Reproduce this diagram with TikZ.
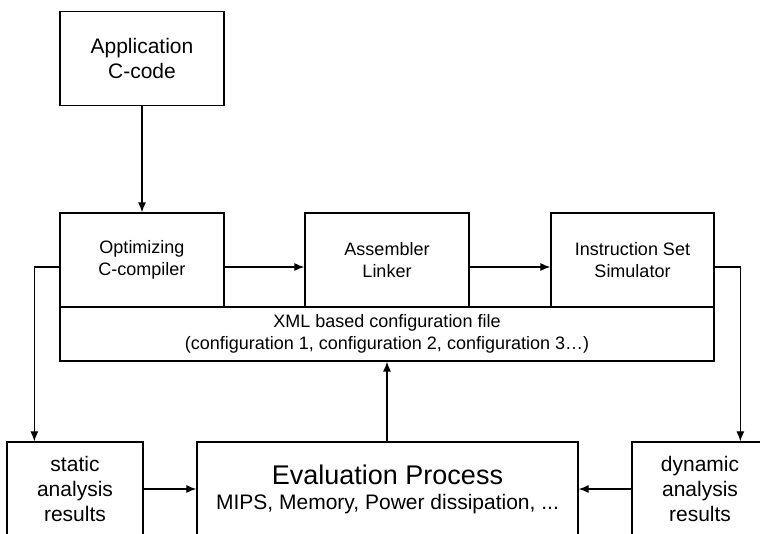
\documentclass[tikz,border=0pt]{standalone}
\usepackage{fontspec}
\setmainfont{Liberation Sans}
\usetikzlibrary{arrows.meta}

\begin{document}
\begin{tikzpicture}[
				x=1pt, y=-1pt,
				box style/.style={
					draw,
					line width=1.3pt,
					align=center,
					inner sep=0pt,
					minimum width=164pt,
					minimum height=94pt,
					font=\fontsize{18}{22}\selectfont
				},
				big box/.style={
					box style,
					font=\fontsize{21}{25}\selectfont
				},
				flow/.style={->, line width=1.2pt},
				>={Latex[length=10pt,width=8pt]}
				]
				
				\useasboundingbox (0,0) rectangle (760,534);
				\clip (0,0) rectangle (760,534);
				
				\node[big box] (app) at (142,58.5) 
				{Application\\C-code};
				
				\node[box style] (opt) at (142,260) 
				{Optimizing\\C-compiler};
				
				\node[box style] (asm) at (387,260) 
				{Assembler\\Linker};
				
				\node[box style, minimum width=163pt] (iss) at (632.5,260) 
				{Instruction Set\\Simulator};
				
				\node[box style, minimum width=654pt, minimum height=54pt] (xml) at (387,334) 
				{XML based configuration file\\(configuration 1, configuration 2, configuration 3\ldots)};
				
				\node[big box, minimum width=136pt] (static) at (75,489) 
				{static\\analysis\\results};
				
				\node[big box, minimum width=381pt] (eval) at (387.5,489) 
				{{\fontsize{27}{28}\selectfont Evaluation Process}\\MIPS, Memory, Power dissipation, ...};
				
				\node[big box, minimum width=136pt] (dyn) at (700,489) 
				{dynamic\\analysis\\results};
				
				
				\draw[flow] (app) -- (opt);
				\draw[flow] ([yshift=-7pt]opt.east) -- ([yshift=-7pt]asm.west);
				\draw[flow] ([yshift=-7pt]asm.east) -- ([yshift=-7pt]iss.west);
				\draw[flow] ([yshift=-7pt]opt.west) -| ([xshift=28pt]static.north west);
				\draw[flow] ([yshift=-7pt]iss.east) -| ([xshift=109pt]dyn.north west);
				\draw[flow] (eval.north -| xml.south) -- (xml.south);
				\draw[flow] (static) -- (eval);
				\draw[flow] (dyn) -- (eval);
				
			\end{tikzpicture}
\end{document}
